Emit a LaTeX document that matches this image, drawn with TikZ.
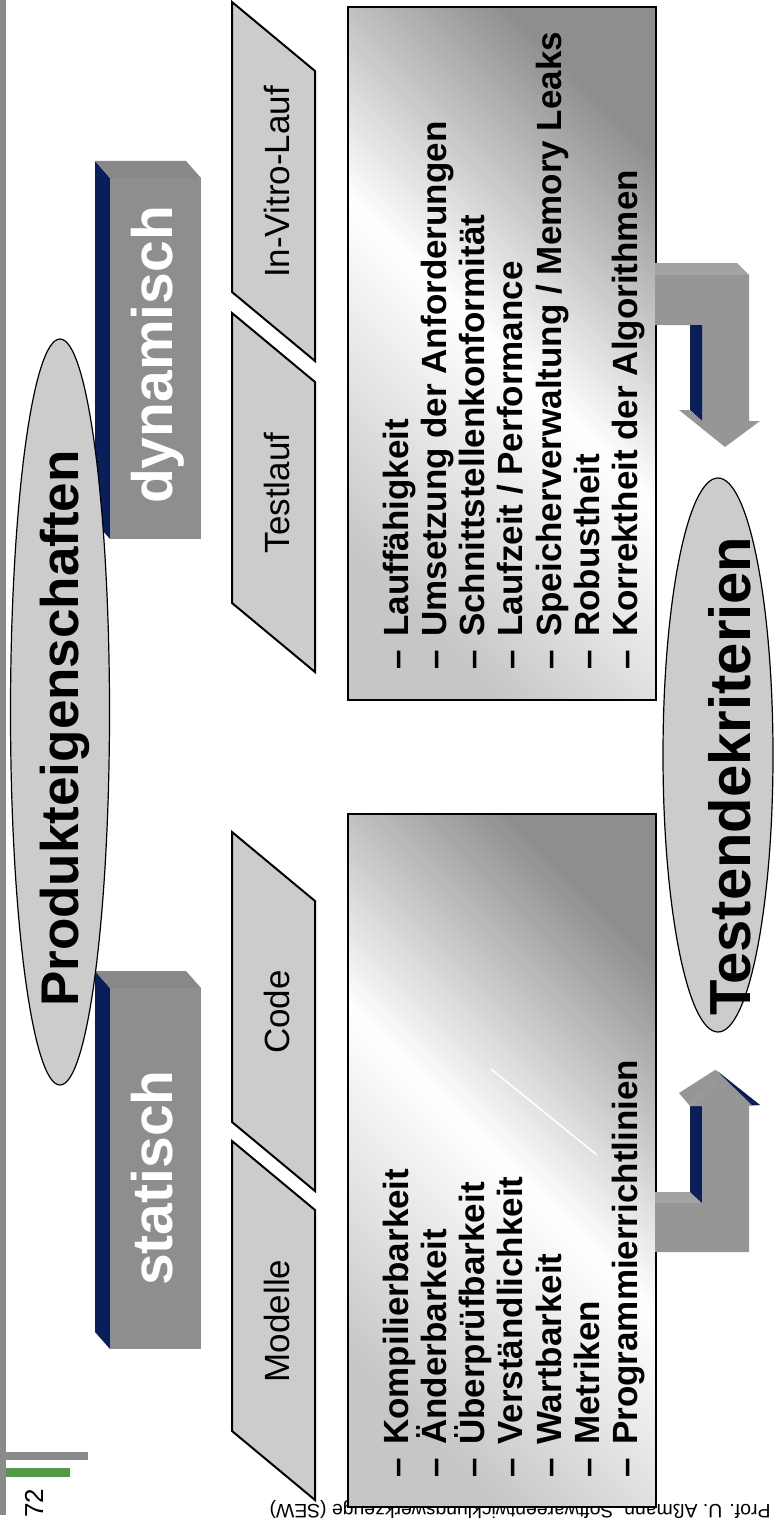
\documentclass[tikz,border=0pt]{standalone}
\usepackage{fontspec}
\setmainfont{Liberation Sans}
\usepackage{tikz}
\usetikzlibrary{shapes.geometric}

\definecolor{navy}{RGB}{10,30,90}
\definecolor{boxgray}{RGB}{142,142,142}
\definecolor{topgray}{RGB}{136,136,136}
\definecolor{shapegray}{RGB}{204,204,204}
\definecolor{arrowgray}{RGB}{150,150,150}
\definecolor{arrowtop}{RGB}{163,163,163}
\definecolor{bargray}{RGB}{138,138,138}
\definecolor{logogreen}{RGB}{84,152,72}

\tikzset{
  headline/.style={rotate=90,anchor=base west,inner sep=0pt,font=\fontsize{53}{60}\selectfont\bfseries},
  boxtext/.style={rotate=90,anchor=base,inner sep=0pt,text=white,font=\fontsize{57}{64}\selectfont\bfseries},
  phasetext/.style={rotate=90,anchor=base,inner sep=0pt,font=\fontsize{35}{40}\selectfont},
  listitem/.style={rotate=90,anchor=base west,inner sep=0pt,font=\fontsize{35}{40}\selectfont\bfseries},
  phase/.style={draw=black,line width=2pt,fill=shapegray},
  listbox/.style={draw=black,line width=2pt,top color=boxgray,bottom color=gray!45,middle color=white,shading angle=-45},
  bubble/.style={draw=black,line width=1.2pt,fill=shapegray},
}

\begin{document}
\begin{tikzpicture}[x=1pt,y=-1pt]
\useasboundingbox (0,0) rectangle (774,1525);

% slide frame and logo bars
\fill[bargray] (0,0) rectangle (6,1515);
\fill[bargray] (6,1452) rectangle (88,1460);
\fill[logogreen] (6,1468) rectangle (70,1477);
\node[rotate=90,font=\fontsize{26}{30}\selectfont] (pagenum) at (34,1503) {72};
\node[rotate=180,font=\fontsize{19.4}{22}\selectfont] (footer) at (520,1509) {Prof. U. Aßmann, Softwareentwicklungswerkzeuge (SEW)};

% dynamisch block
\fill[navy] (95,161) -- (110,178) -- (110,539) -- (95,522) -- cycle;
\fill[topgray] (95,161) -- (186,161) -- (201,178) -- (110,178) -- cycle;
\fill[boxgray] (110,178) rectangle (201,539);
\node[boxtext] (dyn) at (172,355) {dynamisch};

% statisch block
\fill[navy] (95,971) -- (110,988) -- (110,1349) -- (95,1332) -- cycle;
\fill[topgray] (95,971) -- (186,971) -- (201,988) -- (110,988) -- cycle;
\fill[boxgray] (110,988) rectangle (201,1349);
\node[boxtext] (stat) at (172,1178) {statisch};

% Produkteigenschaften
\draw[bubble] (60,712) ellipse [x radius=49.5, y radius=373];
\node[headline] (prod) at (78,1007) {Produkteigenschaften};

% phases
\foreach \a/\txt [count=\i] in {2/In-Vitro-Lauf, 313/Testlauf, 832/Code, 1141/Modelle}
{
  \draw[phase] (232,\a) -- (315,\a+69) -- (315,\a+359) -- (232,\a+290) -- cycle;
  \node[phasetext] (ph\i) at (289,\a+180) {\txt};
}

% criteria lists
\draw[listbox] (348,7) rectangle (656,700);
\draw[listbox] (348,814) rectangle (656,1507);
\draw[white,line width=1.5pt] (491,1069) -- (597,1155);

\foreach \txt [count=\i] in {Lauffähigkeit, Umsetzung der Anforderungen, Schnittstellenkonformität, Laufzeit / Performance, Speicherverwaltung / Memory Leaks, Robustheit, Korrektheit der Algorithmen}
  \node[listitem] (r\i) at ({408+38.3*(\i-1)},670) {\makebox[33pt][l]{--}\txt};

\foreach \txt [count=\i] in {Kompilierbarkeit, Änderbarkeit, Überprüfbarkeit, Verständlichkeit, Wartbarkeit, Metriken, Programmierrichtlinien}
  \node[listitem] (l\i) at ({408+38.3*(\i-1)},1478) {\makebox[33pt][l]{--}\txt};

% arrow from the static list
\fill[arrowtop] (655,1192) -- (690,1192) -- (702,1203) -- (655,1203) -- cycle;
\fill[navy] (690,1106) -- (702,1106) -- (702,1203) -- (690,1192) -- cycle;
\fill[arrowgray] (702,1106) -- (749,1106) -- (749,1252) -- (655,1252) -- (655,1203) -- (702,1203) -- cycle;
\fill[arrowgray] (679,1093) -- (715,1070) -- (760,1105) -- (749,1106) -- (690,1106) -- cycle;
\fill[navy] (716,1070) -- (760,1105) -- (752,1105) -- cycle;
\draw[arrowtop,line width=0.6pt] (690,1106) -- (716,1082);

% arrow from the dynamic list
\fill[arrowtop] (655,263) -- (737,263) -- (749,275) -- (655,275) -- cycle;
\fill[arrowgray] (655,275) -- (749,275) -- (749,421) -- (702,421) -- (702,325) -- (655,325) -- cycle;
\fill[navy] (690,325) -- (702,325) -- (702,421) -- (690,410) -- cycle;
\fill[arrowgray] (679,410) -- (690,410) -- (702,421) -- (760,421) -- (725,447) -- cycle;

% Testendekriterien
\draw[bubble] (718,755) ellipse [x radius=55, y radius=277];
\node[headline,font=\fontsize{58}{64}\selectfont\bfseries] (crit) at (750,1016) {Testendekriterien};

\end{tikzpicture}
\end{document}
